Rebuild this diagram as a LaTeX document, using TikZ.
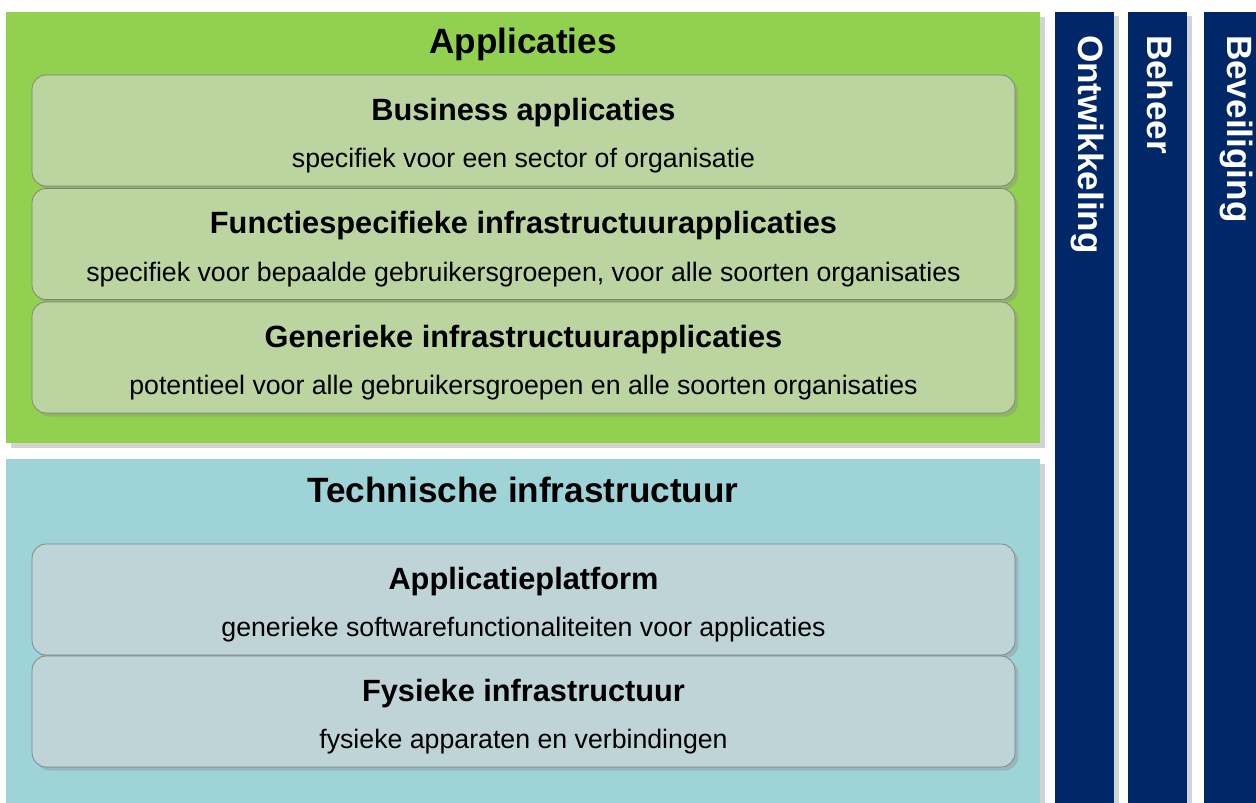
\documentclass[tikz,border=0pt]{standalone}
\usepackage{fontspec}
\setmainfont{Liberation Sans}
\usetikzlibrary{shadows}
\definecolor{appgreen}{HTML}{92D050}
\definecolor{techteal}{HTML}{9ED3D8}
\definecolor{boxgreen}{HTML}{BBD4A0}
\definecolor{boxteal}{HTML}{BFD4D7}
\definecolor{pillarblue}{HTML}{002868}
\begin{document}
\begin{tikzpicture}[x=0.02cm,y=-0.02cm,inner sep=0pt,outer sep=0pt,
panel/.style={rectangle,minimum width=20.68cm,drop shadow={shadow xshift=3pt,shadow yshift=-3pt,opacity=.35}},
layerbox/.style={draw=gray,rounded corners=8pt,minimum width=19.66cm,minimum height=2.22cm,align=center,
  font=\fontsize{15.2}{18}\selectfont,drop shadow={shadow xshift=2pt,shadow yshift=-2pt,opacity=.3}},
pillar/.style={fill=pillarblue,rectangle,minimum width=1.18cm,minimum height=15.82cm,
  drop shadow={shadow xshift=3pt,shadow yshift=-2pt,opacity=.35}},
paneltitle/.style={font=\fontsize{20}{24}\selectfont\bfseries},
pillartext/.style={text=white,rotate=-90,anchor=west,font=\fontsize{20}{24}\selectfont\bfseries}]

\useasboundingbox (0,0) rectangle (1256,803);
\clip (0,0) rectangle (1256,803);

% side pillars
\draw (1084.5,407.5) node[pillar] (dev) {};
\draw (1157.5,407.5) node[pillar] (mgmt) {};
\draw (1233.5,407.5) node[pillar] (sec) {};
\draw (dev.north) ++(3,23) node[pillartext] {Ontwikkeling};
\draw (mgmt.north) ++(3,23) node[pillartext] {Beheer};
\draw (sec.north) ++(3,23) node[pillartext] {Beveiliging};

% the two layers
\draw (523,227.5) node[panel,fill=appgreen,minimum height=8.62cm] (apps) {};
\draw (523,631) node[panel,fill=techteal,minimum height=6.88cm] (tech) {};
\draw (apps.north) ++(0,32) node[paneltitle] {Applicaties};
\draw (tech.north) ++(0,31) node[paneltitle] {Technische infrastructuur};

\newcommand{\layertext}[2]{{\fontsize{17.5}{21}\selectfont\bfseries\rule{0pt}{18.6pt}#1}\\[9pt]#2}

\draw (523.5,130.5) node[layerbox,fill=boxgreen] (business)
  {\layertext{Business applicaties}{specifiek voor een sector of organisatie}};
\draw (523.5,244) node[layerbox,fill=boxgreen] (funcinfra)
  {\layertext{Functiespecifieke infrastructuurapplicaties}{specifiek voor bepaalde gebruikersgroepen, voor alle soorten organisaties}};
\draw (523.5,357.5) node[layerbox,fill=boxgreen] (geninfra)
  {\layertext{Generieke infrastructuurapplicaties}{potentieel voor alle gebruikersgroepen en alle soorten organisaties}};
\draw (523.5,599.5) node[layerbox,fill=boxteal] (platform)
  {\layertext{Applicatieplatform}{generieke softwarefunctionaliteiten voor applicaties}};
\draw (523.5,711.5) node[layerbox,fill=boxteal] (physical)
  {\layertext{Fysieke infrastructuur}{fysieke apparaten en verbindingen}};
\end{tikzpicture}
\end{document}
